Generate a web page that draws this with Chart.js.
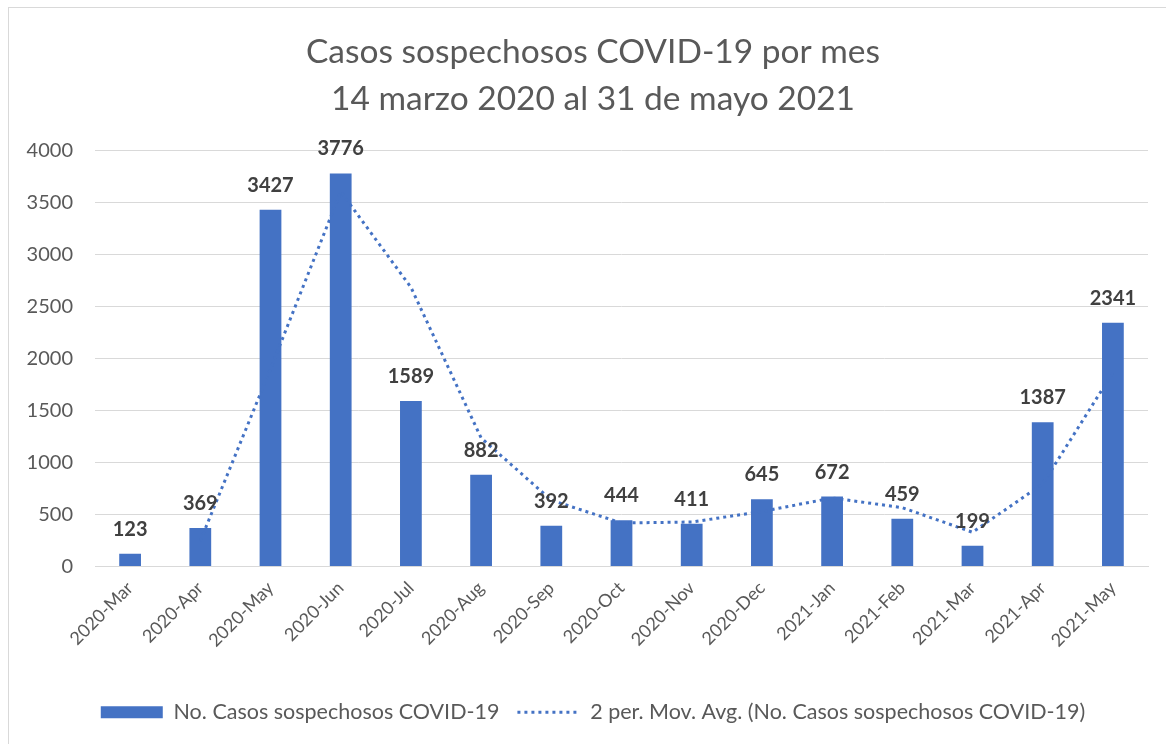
<!DOCTYPE html>
<html><head><meta charset="utf-8">
<script src="https://cdn.jsdelivr.net/npm/chart.js@4"></script>
<style>
html,body{margin:0;padding:0;background:#fff;}
#wrap{position:relative;width:1166px;height:744px;}
#frame{position:absolute;left:8px;top:7px;width:1160px;height:745px;border:1px solid #d9d9d9;box-sizing:border-box;pointer-events:none;}
canvas{position:absolute;left:0;top:0;}
</style></head>
<body>
<div id="wrap"><canvas id="c" width="1166" height="744"></canvas><div id="frame"></div></div>
<script>
const categories = ['2020-Mar','2020-Apr','2020-May','2020-Jun','2020-Jul','2020-Aug','2020-Sep','2020-Oct','2020-Nov','2020-Dec','2021-Jan','2021-Feb','2021-Mar','2021-Apr','2021-May'];
const casos = [123,369,3427,3776,1589,882,392,444,411,645,672,459,199,1387,2341];
const movAvg = [null,246,1898,3601.5,2682.5,1235.5,637,418,427.5,528,658.5,565.5,329,793,1864];
const titleLines = ['Casos sospechosos COVID-19 por mes','14 marzo 2020 al 31 de mayo 2021'];
const seriesNames = ['No. Casos sospechosos COVID-19','2 per. Mov. Avg. (No. Casos sospechosos COVID-19)'];

const FONT = "Lato, 'Open Sans', sans-serif";
const BLUE = '#4472C4';

const barLabels = {
  id:'barLabels',
  afterDatasetsDraw(chart){
    const ctx = chart.ctx;
    const meta = chart.getDatasetMeta(1);
    ctx.save();
    ctx.font = "bold 20px " + FONT;
    ctx.fillStyle = '#404040';
    ctx.textAlign = 'center';
    ctx.textBaseline = 'alphabetic';
    meta.data.forEach((bar,i)=>{
      ctx.fillText(String(casos[i]), bar.x, bar.y - 18);
    });
    ctx.restore();
  }
};

new Chart(document.getElementById('c'), {
  data:{
    labels: categories,
    datasets:[
      {type:'line', label: seriesNames[1], data: movAvg, borderColor: BLUE, borderWidth:3, borderDash:[3,4], pointRadius:0, fill:false, tension:0, order:0},
      {type:'bar', label: seriesNames[0], data: casos, backgroundColor: BLUE, categoryPercentage:1, barPercentage:0.31, order:1}
    ]
  },
  plugins:[barLabels],
  options:{
    responsive:false,
    animation:false,
    layout:{padding:{left:24,right:4,top:0,bottom:11}},
    plugins:{
      tooltip:{enabled:false},
      title:{display:true, text:titleLines, color:'#595959', font:{family:FONT,size:33.5,weight:'normal',lineHeight:1.42}, padding:{top:28,bottom:27}},
      legend:{
        position:'bottom',
        labels:{
          font:{family:FONT,size:21.5}, color:'#595959', boxWidth:62, boxHeight:12, padding:18,
          usePointStyle:true, pointStyleWidth:62,
          generateLabels(){
            return [
              {text:seriesNames[0], fillStyle:BLUE, strokeStyle:BLUE, lineWidth:0, pointStyle:'rect', datasetIndex:1, hidden:false, fontColor:'#595959'},
              {text:seriesNames[1], fillStyle:BLUE, strokeStyle:BLUE, lineWidth:3, lineDash:[3,4], pointStyle:'line', datasetIndex:0, hidden:false, fontColor:'#595959'}
            ];
          }
        }
      }
    },
    scales:{
      x:{
        grid:{display:false}, border:{display:true,color:'#d9d9d9'},
        ticks:{color:'#595959', font:{family:FONT,size:18}, maxRotation:45, minRotation:45, autoSkip:false},
        afterFit(s){ s.height = 117; }
      },
      y:{
        min:0,max:4000,
        grid:{color:'#d9d9d9', drawTicks:false}, border:{display:false},
        ticks:{stepSize:500, color:'#595959', font:{family:FONT,size:20}, padding:22, callback:(v)=>String(v)},
        afterFit(s){ s.width = 71; }
      },
      y2:{
        position:'right', min:0, max:1,
        grid:{display:false}, border:{display:false}, ticks:{display:false},
        afterFit(s){ s.width = 14; }
      }
    }
  }
});
</script>
</body></html>
